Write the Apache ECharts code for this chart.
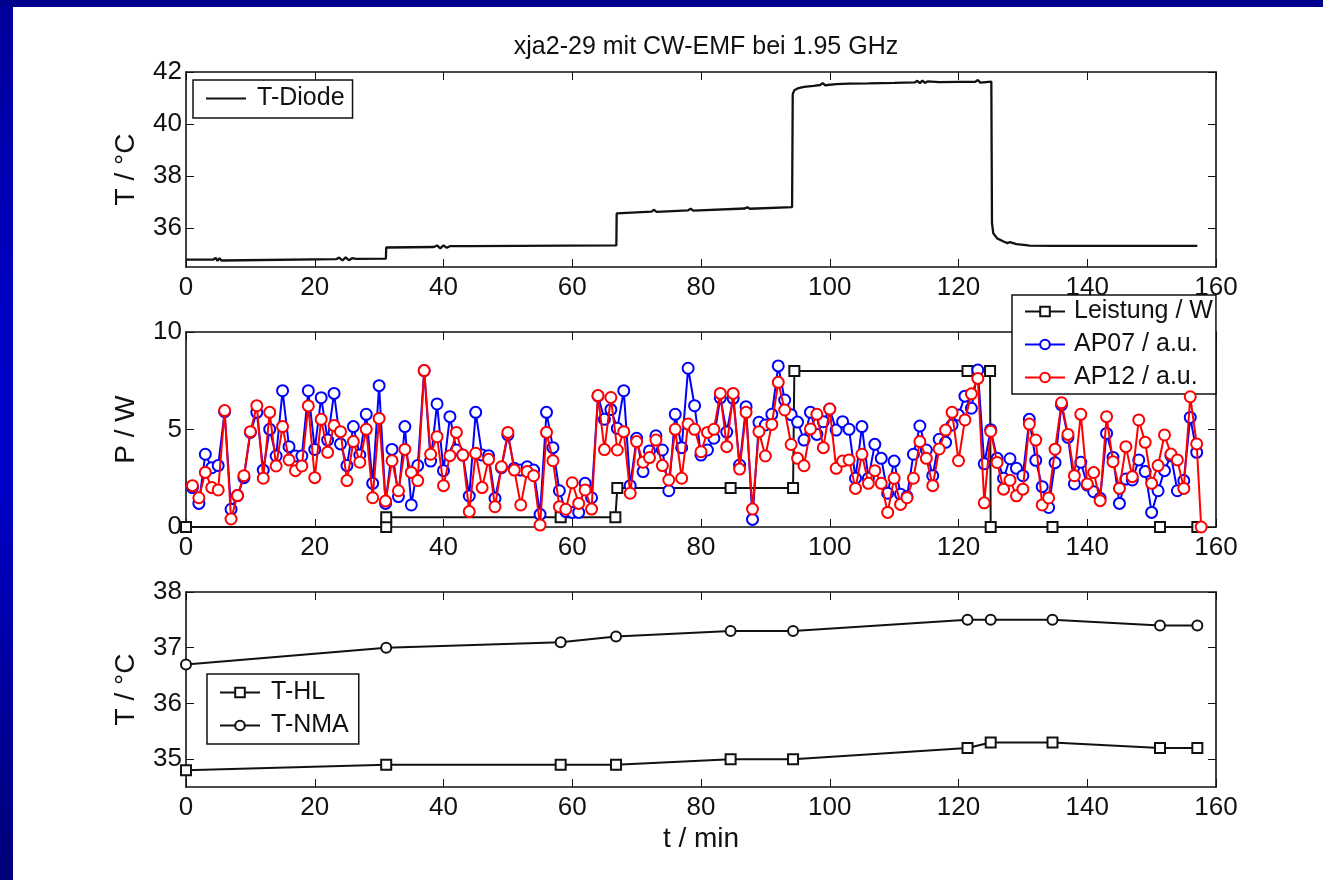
<!DOCTYPE html>
<html>
<head>
<meta charset="utf-8">
<title>xja2-29 mit CW-EMF bei 1.95 GHz</title>
<script src="https://cdn.jsdelivr.net/npm/echarts@6/dist/echarts.min.js"></script>
<style>
  html, body { margin: 0; padding: 0; }
  body {
    width: 1323px; height: 880px; overflow: hidden;
    background:
      linear-gradient(#00008f, #00008f) top left / 100% 7px no-repeat,
      linear-gradient(#00009a 0%, #0000c4 35%, #0000c8 55%, #000078 100%) top left / 13px 100% no-repeat,
      #ffffff;
  }
  #chart { position: absolute; left: 0; top: 0; width: 1323px; height: 880px; }
</style>
</head>
<body>
<div id="chart"></div>
<script>
// ---- Panel 1: diode temperature trace ----
const diodeTime = [0, 4.2, 4.6, 4.9, 5.2, 5.5, 5.8, 23.3, 23.8, 24.3, 24.8, 25.3, 25.8, 26.4, 31.05,
  31.1, 38.5, 39.0, 39.5, 40.0, 40.5, 41.0, 44.0, 66.85,
  66.9, 70.0, 72.3, 72.7, 73.1, 78.0, 78.4, 78.8, 86.8, 87.2, 87.6, 94.15,
  94.25, 94.5, 95.0, 96.0, 97.5, 98.5, 98.9, 99.3, 101.0, 103.0, 106.0, 110.0,
  113.2, 113.6, 114.0, 114.4, 114.8, 115.2, 117.0, 120.0, 122.6, 123.0, 123.4, 125.1,
  125.2, 125.4, 126.0, 127.0, 127.6, 128.0, 129.0, 130.5, 131.0, 135.0, 157.1];
const diodeTemp = [34.78, 34.78, 34.85, 34.74, 34.84, 34.75, 34.79, 34.80, 34.86, 34.75, 34.87, 34.76, 34.84, 34.81, 34.82,
  35.25, 35.27, 35.33, 35.22, 35.33, 35.24, 35.30, 35.30, 35.33,
  36.56, 36.60, 36.63, 36.70, 36.62, 36.68, 36.74, 36.67, 36.75, 36.80, 36.74, 36.80,
  41.15, 41.30, 41.37, 41.43, 41.47, 41.50, 41.57, 41.49, 41.53, 41.55, 41.56, 41.58,
  41.60, 41.66, 41.57, 41.67, 41.58, 41.64, 41.61, 41.62, 41.62, 41.69, 41.59, 41.63,
  36.20, 35.80, 35.60, 35.48, 35.42, 35.46, 35.38, 35.34, 35.32, 35.31, 35.31];

// ---- Panel 2: power and detector readings ----
const powerTime = [0, 31.1, 31.1, 58.2, 66.7, 67.0, 84.6, 94.3, 94.5, 121.4, 124.9, 125.0, 134.6, 151.3, 157.1];
const powerW    = [0, 0, 0.5, 0.5, 0.5, 2, 2, 2, 8, 8, 8, 0, 0, 0, 0];

const apTime = [1, 2, 3, 4, 5, 6, 7, 8, 9, 10, 11, 12, 13, 14, 15, 16, 17, 18, 19, 20,
  21, 22, 23, 24, 25, 26, 27, 28, 29, 30, 31, 32, 33, 34, 35, 36, 37, 38, 39, 40,
  41, 42, 43, 44, 45, 46, 47, 48, 49, 50, 51, 52, 53, 54, 55, 56, 57, 58, 59, 60,
  61, 62, 63, 64, 65, 66, 67, 68, 69, 70, 71, 72, 73, 74, 75, 76, 77, 78, 79, 80,
  81, 82, 83, 84, 85, 86, 87, 88, 89, 90, 91, 92, 93, 94, 95, 96, 97, 98, 99, 100,
  101, 102, 103, 104, 105, 106, 107, 108, 109, 110, 111, 112, 113, 114, 115, 116, 117, 118, 119, 120,
  121, 122, 123, 124, 125, 126, 127, 128, 129, 130, 131, 132, 133, 134, 135, 136, 137, 138, 139, 140,
  141, 142, 143, 144, 145, 146, 147, 148, 149, 150, 151, 152, 153, 154, 155, 156, 157];
const ap07 = [2.02, 1.21, 3.73, 3.04, 3.15, 5.91, 0.91, 1.61, 2.53, 4.85, 5.88, 2.92, 5.01, 3.64, 6.99, 4.12, 3.64, 3.64, 6.99, 3.98,
  6.63, 4.46, 6.85, 4.26, 3.15, 5.15, 3.69, 5.78, 2.24, 7.25, 1.21, 3.98, 1.56, 5.15, 1.13, 3.15, 8.02, 3.38, 6.31, 2.89,
  5.66, 3.95, 3.69, 1.59, 5.88, 3.69, 3.66, 1.47, 3.04, 4.72, 3.01, 2.92, 3.09, 2.92, 0.65, 5.88, 4.07, 1.86, 0.79, 0.75,
  0.75, 2.24, 1.50, 6.72, 5.52, 6.02, 5.06, 6.99, 2.12, 4.55, 2.84, 3.90, 4.68, 3.95, 1.86, 5.78, 4.07, 8.14, 6.22, 3.69,
  3.95, 4.55, 6.62, 4.87, 6.60, 3.18, 6.17, 0.39, 5.37, 5.23, 5.78, 8.26, 6.51, 5.76, 5.38, 4.46, 5.88, 4.75, 5.40, 6.05,
  4.97, 5.40, 5.01, 2.50, 5.15, 2.50, 4.24, 3.52, 1.73, 3.38, 1.68, 1.56, 3.73, 5.18, 3.95, 2.63, 4.50, 4.34, 5.23, 5.74,
  6.71, 6.09, 8.05, 3.24, 4.99, 3.52, 2.50, 3.50, 3.01, 2.63, 5.52, 3.42, 2.07, 1.00, 3.30, 6.26, 4.60, 2.21, 3.32, 2.15,
  1.81, 1.47, 4.80, 3.57, 1.21, 2.46, 2.41, 3.44, 2.84, 0.75, 1.86, 2.89, 3.66, 1.86, 2.38, 5.62, 3.83];
const ap12Time = apTime.concat([157.7]);
const ap12 = [2.12, 1.50, 2.80, 2.02, 1.90, 5.97, 0.41, 1.61, 2.63, 4.89, 6.22, 2.50, 5.88, 3.13, 5.15, 3.44, 2.89, 3.13, 6.21, 2.53,
  5.52, 3.83, 5.20, 4.89, 2.38, 4.38, 3.32, 5.01, 1.50, 5.57, 1.33, 3.40, 1.86, 3.98, 2.80, 2.38, 8.02, 3.73, 4.63, 2.12,
  3.66, 4.85, 3.69, 0.79, 3.78, 2.02, 3.47, 1.04, 3.09, 4.85, 2.92, 1.13, 2.84, 2.63, 0.10, 4.85, 3.40, 1.04, 0.91, 2.27,
  1.21, 1.90, 0.92, 6.74, 3.97, 6.64, 3.95, 4.89, 1.73, 4.38, 3.32, 3.56, 4.46, 3.15, 2.41, 5.01, 2.50, 5.28, 5.01, 3.86,
  4.85, 5.01, 6.85, 4.12, 6.85, 2.97, 5.88, 0.92, 4.89, 3.64, 5.26, 7.42, 6.00, 4.23, 3.52, 3.14, 5.03, 5.78, 4.07, 6.05,
  3.01, 3.38, 3.44, 1.98, 3.73, 2.24, 2.89, 2.24, 0.75, 2.50, 1.16, 1.50, 2.50, 4.38, 3.52, 2.12, 4.00, 4.97, 5.88, 3.40,
  5.49, 6.83, 7.62, 1.24, 4.91, 3.31, 1.94, 2.40, 1.60, 1.94, 5.28, 4.46, 1.13, 1.49, 3.99, 6.37, 4.75, 2.63, 5.78, 2.21,
  2.79, 1.35, 5.66, 3.35, 1.98, 4.12, 2.58, 5.49, 4.34, 2.24, 3.15, 4.72, 3.74, 3.44, 1.98, 6.68, 4.26, 0];

// ---- Panel 3: reference thermometers ----
const refTime = [0, 31.1, 58.2, 66.8, 84.6, 94.3, 121.4, 125.0, 134.6, 151.3, 157.1];
const tHL  = [34.8, 34.9, 34.9, 34.9, 35.0, 35.0, 35.2, 35.3, 35.3, 35.2, 35.2];
const tNMA = [36.7, 37.0, 37.1, 37.2, 37.3, 37.3, 37.5, 37.5, 37.5, 37.4, 37.4];

// axis settings
const xRange = { min: 0, max: 160, interval: 20 };
const yRanges = [
  { min: 34.5, max: 42, ticks: [36, 38, 40, 42], name: 'T / \u00b0C' },
  { min: 0, max: 10, ticks: [0, 5, 10], name: 'P / W' },
  { min: 34.5, max: 38, ticks: [35, 36, 37, 38], name: 'T / \u00b0C' }
];

const FONT = '"Liberation Sans", Arial, Helvetica, sans-serif';
const INK = '#111';
const gridTops = [72, 332, 592];
const PLOT_LEFT = 186, PLOT_W = 1030, PLOT_H = 195;

const pairs = (xs, ys) => xs.map((x, i) => [x, ys[i]]);

const grids = gridTops.map(top => ({ left: PLOT_LEFT, top: top, width: PLOT_W, height: PLOT_H }));

const xAxes = [];
const yAxes = [];
gridTops.forEach((top, g) => {
  const lineStyle = { color: INK, width: 1.6 };
  xAxes.push({
    type: 'value', gridIndex: g, position: 'bottom',
    min: xRange.min, max: xRange.max, interval: xRange.interval,
    axisLine: { show: true, onZero: false, lineStyle },
    axisTick: { show: true, inside: true, length: 8, lineStyle: { color: INK, width: 1 } },
    axisLabel: { show: true, margin: 8, color: INK, fontSize: 26, fontFamily: FONT },
    splitLine: { show: false },
    name: g === 2 ? 't / min' : '',
    nameLocation: 'middle', nameGap: 38,
    nameTextStyle: { color: INK, fontSize: 28, fontFamily: FONT }
  });
  xAxes.push({
    type: 'value', gridIndex: g, position: 'top',
    min: xRange.min, max: xRange.max, interval: xRange.interval,
    axisLine: { show: true, onZero: false, lineStyle },
    axisTick: { show: true, inside: true, length: 8, lineStyle: { color: INK, width: 1 } },
    axisLabel: { show: false },
    splitLine: { show: false }
  });
  const yr = yRanges[g];
  yAxes.push({
    type: 'value', gridIndex: g, position: 'left',
    min: yr.min, max: yr.max,
    axisLine: { show: true, onZero: false, lineStyle },
    axisTick: { show: true, inside: true, length: 8, customValues: yr.ticks, lineStyle: { color: INK, width: 1 } },
    axisLabel: { show: true, margin: 4, color: INK, fontSize: 26, fontFamily: FONT, customValues: yr.ticks },
    splitLine: { show: false },
    name: yr.name, nameLocation: 'middle', nameRotate: 90, nameGap: 46,
    nameTextStyle: { color: INK, fontSize: 28, fontFamily: FONT }
  });
  yAxes.push({
    type: 'value', gridIndex: g, position: 'right',
    min: yr.min, max: yr.max,
    axisLine: { show: true, onZero: false, lineStyle },
    axisTick: { show: true, inside: true, length: 8, customValues: yr.ticks, lineStyle: { color: INK, width: 1 } },
    axisLabel: { show: false },
    splitLine: { show: false }
  });
});

const lineSeries = (name, axisIdx, data, color, symbol, size, z, width) => ({
  name, type: 'line', xAxisIndex: axisIdx * 2, yAxisIndex: axisIdx * 2,
  data, z,
  symbol, symbolSize: size, showSymbol: symbol !== 'none',
  lineStyle: { color, width: width || 2 },
  itemStyle: { color, borderColor: color, borderWidth: 1.9 },
  emphasis: { disabled: true },
  animation: false
});

const legendBase = {
  orient: 'vertical',
  backgroundColor: '#fff',
  borderColor: INK, borderWidth: 1.5, borderRadius: 0,
  itemWidth: 40, itemHeight: 12,
  textStyle: { color: INK, fontSize: 25, fontFamily: FONT, padding: [0, 0, 0, 6] },
  selectedMode: false
};

const option = {
  animation: false,
  title: {
    text: 'xja2-29 mit CW-EMF bei 1.95 GHz',
    left: 701, top: 30, textAlign: 'center',
    textStyle: { color: INK, fontSize: 25, fontWeight: 'normal', fontFamily: FONT }
  },
  grid: grids,
  xAxis: xAxes,
  yAxis: yAxes,
  legend: [
    Object.assign({}, legendBase, {
      data: [{ name: 'T-Diode', itemStyle: { opacity: 0 } }],
      left: 193, top: 80, padding: [6, 8, 7, 12]
    }),
    Object.assign({}, legendBase, {
      data: ['Leistung / W', 'AP07 / a.u.', 'AP12 / a.u.'],
      left: 1012, top: 295, padding: [4, 3, 4, 12], itemGap: 8,
      textStyle: Object.assign({}, legendBase.textStyle, { padding: [0, 0, 0, 4] })
    }),
    Object.assign({}, legendBase, {
      data: ['T-HL', 'T-NMA'],
      left: 207, top: 674, padding: [6, 10, 6, 12], itemGap: 8
    })
  ],
  series: [
    lineSeries('T-Diode', 0, pairs(diodeTime, diodeTemp), INK, 'none', 0, 2, 2.3),
    lineSeries('Leistung / W', 1, pairs(powerTime, powerW), INK, 'emptyRect', 10, 2),
    lineSeries('AP07 / a.u.', 1, pairs(apTime, ap07), '#0000ff', 'emptyCircle', 11, 3),
    lineSeries('AP12 / a.u.', 1, pairs(ap12Time, ap12), '#ff0000', 'emptyCircle', 11, 4),
    lineSeries('T-HL', 2, pairs(refTime, tHL), INK, 'emptyRect', 10, 2),
    lineSeries('T-NMA', 2, pairs(refTime, tNMA), INK, 'emptyCircle', 10, 2)
  ]
};

const chart = echarts.init(document.getElementById('chart'), null, { renderer: 'canvas' });
chart.setOption(option);
</script>
</body>
</html>
